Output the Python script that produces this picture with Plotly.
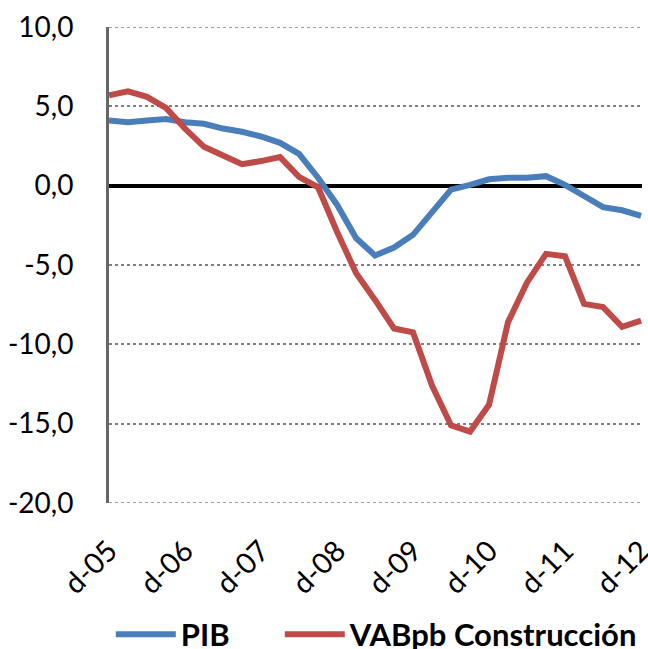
import plotly.graph_objects as go

quarters = list(range(29))
tick_vals = [0, 4, 8, 12, 16, 20, 24, 28]
tick_text = ["d-05", "d-06", "d-07", "d-08", "d-09", "d-10", "d-11", "d-12"]
y_vals = [-20, -15, -10, -5, 0, 5, 10]
y_text = ["-20,0", "-15,0", "-10,0", "-5,0", "0,0", "5,0", "10,0"]
y_min, y_max = -20, 10

pib = [4.1, 4.0, 4.1, 4.2, 4.0, 3.9, 3.6, 3.4, 3.1, 2.7, 2.0, 0.5, -1.2, -3.3, -4.4,
       -3.9, -3.1, -1.6, -0.25, 0.05, 0.4, 0.5, 0.5, 0.6, 0.05, -0.65, -1.35, -1.55, -1.9]
vab_construccion = [5.7, 5.95, 5.6, 4.9, 3.6, 2.45, 1.9, 1.35, 1.55, 1.8, 0.55, -0.1, -2.9, -5.5,
                    -7.2, -9.0, -9.25, -12.6, -15.1, -15.5, -13.8, -8.6, -6.1, -4.3, -4.45,
                    -7.45, -7.65, -8.9, -8.5]

fig = go.Figure()
fig.add_trace(go.Scatter(x=quarters, y=pib, mode="lines", name="PIB" + "\u00a0" * 6,
                         line=dict(color="#4A7EBB", width=6)))
fig.add_trace(go.Scatter(x=quarters, y=vab_construccion, mode="lines", name="VABpb Construcción",
                         line=dict(color="#BE4B48", width=6)))

# boundary gridlines (top and bottom of the value axis)
for yv in (y_min, y_max):
    fig.add_shape(type="line", xref="paper", yref="y", x0=0, x1=1, y0=yv, y1=yv,
                  line=dict(color="#7f7f7f", width=1.5, dash="dot"), layer="below")

fig.update_layout(
    width=648, height=649,
    margin=dict(l=109, r=6, t=27, b=146, autoexpand=False),
    paper_bgcolor="white", plot_bgcolor="white",
    font=dict(family="Lato, sans-serif", size=28, color="black"),
    showlegend=True,
    legend=dict(orientation="h", xref="container", yref="container",
                x=0.171, xanchor="left", y=0.022, yanchor="middle",
                font=dict(size=31, family="Lato, sans-serif", weight="bold"),
                itemwidth=60, bgcolor="rgba(0,0,0,0)"),
    xaxis=dict(range=[0, 28.05], tickmode="array", tickvals=tick_vals, ticktext=tick_text,
               tickangle=-45, showgrid=False, zeroline=False, showline=False,
               ticks="", ticklabelstandoff=24, ticklabeloverflow="allow",
               automargin=False, tickfont=dict(size=29)),
    yaxis=dict(range=[y_min, y_max], tickmode="array", tickvals=y_vals, ticktext=y_text,
               showgrid=True, gridcolor="#7f7f7f", gridwidth=1.5, griddash="dot",
               zeroline=True, zerolinecolor="black", zerolinewidth=4,
               showline=True, linecolor="#666666", linewidth=3,
               ticks="", ticklabelstandoff=27, automargin=False, tickfont=dict(size=28)),
)

fig.write_html("out.html", config={"displayModeBar": False},
               post_script="document.body.style.margin='0';document.body.style.overflow='hidden';")
